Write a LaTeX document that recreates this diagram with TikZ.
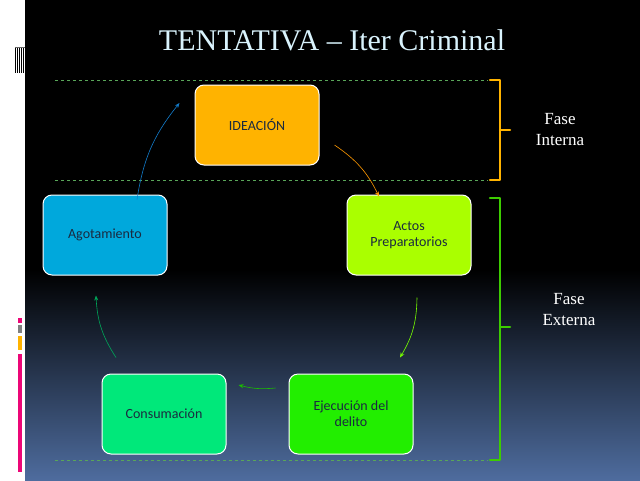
\documentclass[tikz,border=0pt]{standalone}
\usepackage{fontspec}
\setmainfont{Liberation Serif}
\newfontfamily\bodyf{Carlito}
\usetikzlibrary{arrows.meta}
\definecolor{bgblue}{HTML}{4E6C9E}
\definecolor{orangeB}{HTML}{FFB300}
\definecolor{limeB}{HTML}{AAFF00}
\definecolor{greenB}{HTML}{22EE00}
\definecolor{mintB}{HTML}{00E87A}
\definecolor{cyanB}{HTML}{00A8DC}
\definecolor{txt}{HTML}{1A2A40}
\tikzset{
  box/.style={draw=white, line width=1pt, rounded corners=9pt, minimum width=124pt, minimum height=80pt, align=center, font=\bodyf\fontsize{14}{16}\selectfont, text=txt},
  arr/.style={-{Stealth[length=5pt,width=4pt]}, line width=0.6pt},
  guide/.style={draw=gray!70!green, dashed, line width=0.4pt},
  brace/.style={line width=2.5pt, line cap=round, line join=round},
  fase/.style={text=white, align=center, font=\fontsize{17}{21}\selectfont}
}
\begin{document}
\begin{tikzpicture}[x=1pt,y=-1pt]
\useasboundingbox (0,0) rectangle (640,480);
\fill[white] (0,0) rectangle (25,480);
\fill[black] (25,0) rectangle (640,270);
\shade[top color=black, bottom color=bgblue] (25,270) rectangle (640,480);
% stripes top-left
\foreach \i in {0,...,4} { \fill[black] (15+2*\i,47) rectangle (16+2*\i,73); }
\fill[black!60] (15,47) rectangle (25,48);
% small colour bars
\fill[magenta!80!red] (18,318) rectangle (22,323);
\fill[gray] (18,325) rectangle (22,333);
\fill[orangeB] (18,336) rectangle (22,350);
\fill[magenta!80!red] (18,354) rectangle (22,472);
\node[text=cyan!15!white, font=\fontsize{30}{34}\selectfont] (title) at (332,40) {TENTATIVA -- Iter Criminal};
% guides
\coordinate (g1a) at (55,80); \coordinate (g1b) at (488,80);
\coordinate (g2a) at (55,180); \coordinate (g2b) at (488,180);
\coordinate (g3a) at (55,460); \coordinate (g3b) at (488,460);
\draw[guide] (g1a) -- (g1b); \draw[guide] (g2a) -- (g2b); \draw[guide] (g3a) -- (g3b);
% nodes
\node[box, fill=orangeB] (idea) at (257,125) {IDEACIÓN};
\node[box, fill=limeB] (actos) at (409,235) {Actos\\Preparatorios};
\node[box, fill=greenB] (ejec) at (351,414) {Ejecución del\\delito};
\node[box, fill=mintB] (cons) at (164,414) {Consumación};
\node[box, fill=cyanB] (agot) at (105,235) {Agotamiento};
% arrows
\draw[arr, draw=orange!80!yellow] ([xshift=15pt,yshift=-20pt]idea.east) to[bend left=15] ([xshift=-30pt,yshift=-2pt]actos.north);
\draw[arr, draw=limeB!70!green] ([xshift=8pt,yshift=-22pt]actos.south) to[bend left=15] ([xshift=49pt,yshift=16pt]ejec.north);
\draw[arr, draw=greenB!80!black] ([xshift=-13pt,yshift=26pt]ejec.west) to[bend left=10] ([xshift=12pt,yshift=29pt]cons.east);
\draw[arr, draw=teal!70!green] ([xshift=-48pt,yshift=16pt]cons.north) to[bend left=15] ([xshift=-9pt,yshift=-20pt]agot.south);
\draw[arr, draw=cyan!60!blue] ([xshift=32pt,yshift=-5pt]agot.north) to[bend left=15] ([xshift=-15pt,yshift=22pt]idea.west);
% braces
\coordinate (b1t) at (490,80); \coordinate (b1b) at (490,180);
\draw[brace, orangeB] (b1t) -- (500,80) -- (500,180) -- (b1b);
\draw[brace, orangeB] (500,130) -- (510,130);
\coordinate (b2t) at (490,198); \coordinate (b2b) at (490,460);
\draw[brace, green!60!lime!80!black] (b2t) -- (500,198) -- (500,460) -- (b2b);
\draw[brace, green!60!lime!80!black] (500,327) -- (510,327);
\node[fase] (fi) at (560,130) {Fase\\Interna};
\node[fase] (fe) at (569,310) {Fase\\Externa};
\end{tikzpicture}
\end{document}
